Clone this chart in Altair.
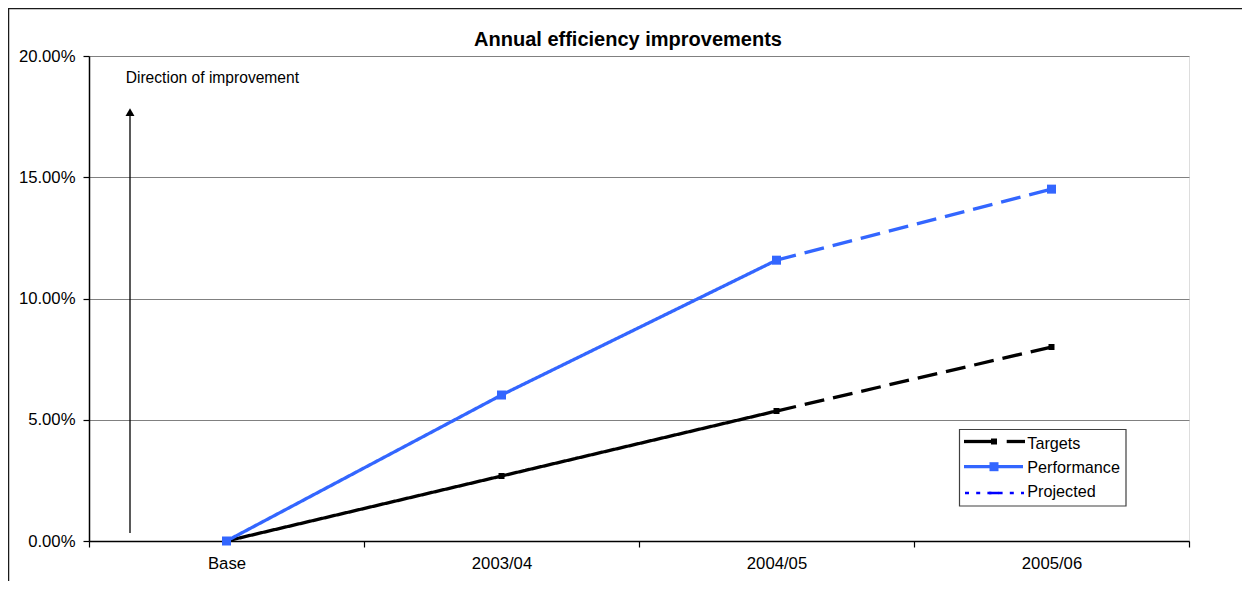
import altair as alt
import pandas as pd

# ---------------- data ----------------
years = ["Base", "2003/04", "2004/05", "2005/06"]
targets = [0.0, 0.0268, 0.0536, 0.0800]
performance = [0.0, 0.0602, 0.1158, 0.1451]
series_names = ["Targets", "Performance"]
legend_labels = ["Targets", "Performance", "Projected"]
y_ticks = [0.0, 0.05, 0.10, 0.15, 0.20]
title_text = "Annual efficiency improvements"
annotation_text = "Direction of improvement"
arrow_span = [0.0033, 0.1757]
arrow_head = [0.1769]
annotation_y = [0.189]

FONT = "Liberation Sans"
BLUE = "#3366FF"
W, H = 1100, 485

rows = []
for name, vals in zip(series_names, [targets, performance]):
    for i, (yr, v) in enumerate(zip(years, vals)):
        if i <= 2:
            rows.append(dict(year=yr, value=v, series=name, part="actual"))
        if i >= 2:
            rows.append(dict(year=yr, value=v, series=name, part="projected"))
lines_df = pd.DataFrame(rows)
tgt_pts = pd.DataFrame(dict(year=years, value=targets))
perf_pts = pd.DataFrame(dict(year=years, value=performance))

x_scale = alt.Scale(type="band", domain=years, paddingInner=0, paddingOuter=0)
y_scale = alt.Scale(domain=[0, 0.2], nice=False, zero=True)

x_enc = alt.X(
    "year:N", scale=x_scale, bandPosition=0.5,
    axis=alt.Axis(title=None, tickBand="extent", labelAngle=0, labelFont=FONT,
                  labelFontSize=16.7, labelColor="black", tickColor="black",
                  domainColor="black", domainWidth=1.5, tickWidth=1.2,
                  tickSize=6, labelPadding=8, grid=False),
)
y_enc = alt.Y(
    "value:Q", scale=y_scale,
    axis=alt.Axis(title=None, values=y_ticks, format=".2%", labelFont=FONT,
                  labelFontSize=16.7, labelColor="black", tickColor="black",
                  domainColor="black", domainWidth=1.5, tickWidth=1.2,
                  tickSize=6, labelPadding=8, grid=True, gridColor="#808080",
                  gridWidth=1),
)

lines = alt.Chart(lines_df).mark_line(strokeWidth=3.3).encode(
    x=x_enc,
    y=y_enc,
    color=alt.Color("series:N", scale=alt.Scale(domain=series_names, range=["#000000", BLUE]), legend=None),
    strokeDash=alt.StrokeDash("part:N", scale=alt.Scale(domain=["actual", "projected"], range=[[1, 0], [20, 9]]), legend=None),
)

tgt_marks = alt.Chart(tgt_pts).mark_point(shape="square", filled=True, opacity=1, size=36, color="black").encode(
    x=alt.X("year:N", scale=x_scale, bandPosition=0.5), y=alt.Y("value:Q", scale=y_scale))
perf_marks = alt.Chart(perf_pts).mark_point(shape="square", filled=True, opacity=1, size=81, color=BLUE).encode(
    x=alt.X("year:N", scale=x_scale, bandPosition=0.5), y=alt.Y("value:Q", scale=y_scale))

# arrow annotation
arrow_df = pd.DataFrame({"y0": [arrow_span[0]], "y1": [arrow_span[1]]})
arrow_rule = alt.Chart(arrow_df).mark_rule(color="black", strokeWidth=1.3).encode(
    x=alt.value(41), y=alt.Y("y0:Q", scale=y_scale), y2="y1:Q")
arrow_tip = alt.Chart(pd.DataFrame({"y": arrow_head})).mark_point(
    shape="triangle-up", filled=True, opacity=1, size=80, color="black").encode(
    x=alt.value(41), y=alt.Y("y:Q", scale=y_scale))
annot = alt.Chart(pd.DataFrame({"y": annotation_y, "t": [annotation_text]})).mark_text(
    align="left", baseline="alphabetic", font=FONT, fontSize=15.6, color="black").encode(
    x=alt.value(36.7), y=alt.Y("y:Q", scale=y_scale), text="t:N")

one = pd.DataFrame({"k": [0]})

# chart title (placed as text above the plot area)
title = alt.Chart(pd.DataFrame({"t": [title_text]})).mark_text(
    align="center", baseline="alphabetic", font=FONT, fontSize=20, fontWeight="bold",
    color="black").encode(x=alt.value(539), y=alt.value(-10), text="t:N")

# outer chart frame
frame = alt.Chart(one).mark_rect(fill="transparent", stroke="#1a1a1a", strokeWidth=1.5).encode(
    x=alt.value(-80.5), x2=alt.value(1300), y=alt.value(-47.5), y2=alt.value(700))

# legend (drawn)
leg_box = alt.Chart(one).mark_rect(fill="white", stroke="#404040", strokeWidth=1.2).encode(
    x=alt.value(870.5), x2=alt.value(1037), y=alt.value(373.5), y2=alt.value(450))
leg_parts = [
    alt.Chart(one).mark_rule(color="black", strokeWidth=3.3).encode(
        x=alt.value(875), x2=alt.value(906), y=alt.value(385.5)),
    alt.Chart(one).mark_point(shape="square", filled=True, opacity=1, size=36, color="black").encode(
        x=alt.value(905), y=alt.value(385.5)),
    alt.Chart(one).mark_rule(color="black", strokeWidth=3.3).encode(
        x=alt.value(917.7), x2=alt.value(936), y=alt.value(385.5)),
    alt.Chart(one).mark_rule(color=BLUE, strokeWidth=3.3).encode(
        x=alt.value(875), x2=alt.value(934), y=alt.value(410.7)),
    alt.Chart(one).mark_point(shape="square", filled=True, opacity=1, size=81, color=BLUE).encode(
        x=alt.value(905), y=alt.value(410.7)),
    alt.Chart(one).mark_rule(color="#0000FF", strokeWidth=2.5, strokeDash=[4, 7.2]).encode(
        x=alt.value(876), x2=alt.value(935), y=alt.value(437)),
    alt.Chart(one).mark_rule(color="#0000FF", strokeWidth=2.5).encode(
        x=alt.value(900), x2=alt.value(910), y=alt.value(437)),
]
label_y = [393.3, 416.7, 441.3]
for lab, ly in zip(legend_labels, label_y):
    leg_parts.append(
        alt.Chart(pd.DataFrame({"t": [lab]})).mark_text(
            align="left", baseline="alphabetic", font=FONT, fontSize=16.2, color="black").encode(
            x=alt.value(938.3), y=alt.value(ly), text="t:N"))

chart = alt.layer(
    lines, tgt_marks, perf_marks, arrow_rule, arrow_tip, annot, title, frame, leg_box, *leg_parts
).properties(
    width=W, height=H,
    autosize=alt.AutoSizeParams(type="none"),
    padding={"left": 81, "top": 48, "right": 53, "bottom": 40},
).configure_view(stroke="#8c8c8c", strokeWidth=2).configure(background="white")

chart.save("out.html", embed_options={"renderer": "svg", "actions": False})
